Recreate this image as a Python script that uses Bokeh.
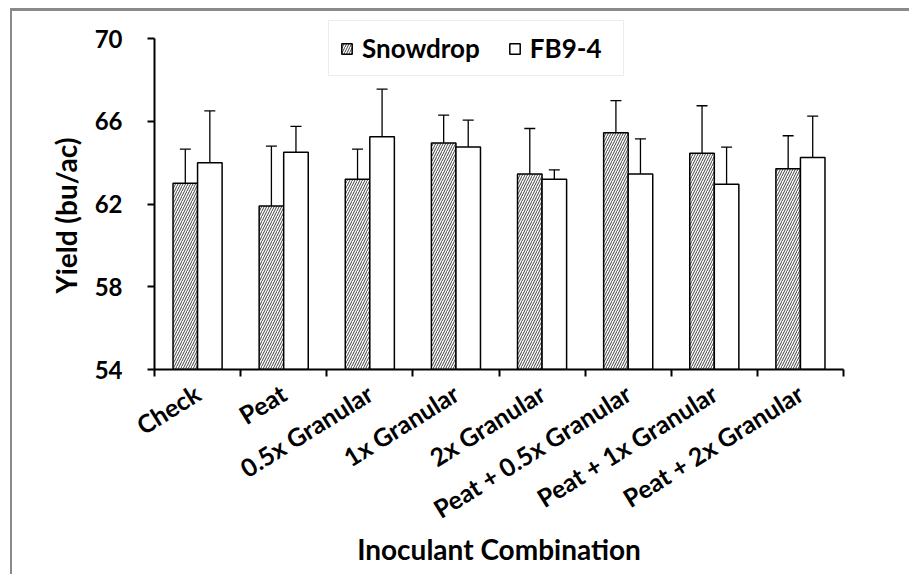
import math
from bokeh.plotting import figure
from bokeh.models import (FixedTicker, Whisker, ColumnDataSource, Legend,
                          LegendItem, TeeHead, Title)
from bokeh.embed import file_html
from bokeh.resources import INLINE

categories = ["Check", "Peat", "0.5x Granular", "1x Granular", "2x Granular",
              "Peat + 0.5x Granular", "Peat + 1x Granular", "Peat + 2x Granular"]
snowdrop = [63.0, 61.9, 63.2, 64.95, 63.45, 65.45, 64.45, 63.7]
snowdrop_err = [1.65, 2.9, 1.45, 1.35, 2.2, 1.55, 2.3, 1.6]
fb94 = [64.0, 64.5, 65.25, 64.75, 63.2, 63.45, 62.95, 64.25]
fb94_err = [2.5, 1.25, 2.3, 1.3, 0.45, 1.7, 1.8, 2.0]
y_ticks = [54, 58, 62, 66, 70]

FONT = "Lato"
n = len(categories)
bw = 0.285
centers = [i + 0.5 for i in range(n)]

# axis spans 331 px for the tick range; extra 18 px of frame above for the legend
AXIS_PX = 331
EXTRA_PX = 18
y_end = y_ticks[-1] + EXTRA_PX * (y_ticks[-1] - y_ticks[0]) / AXIS_PX

src_s = ColumnDataSource(dict(
    x=[c - bw / 2 for c in centers], top=snowdrop,
    upper=[v + e for v, e in zip(snowdrop, snowdrop_err)],
    lower=[v - e for v, e in zip(snowdrop, snowdrop_err)]))
src_f = ColumnDataSource(dict(
    x=[c + bw / 2 for c in centers], top=fb94,
    upper=[v + e for v, e in zip(fb94, fb94_err)],
    lower=[v - e for v, e in zip(fb94, fb94_err)]))

p = figure(frame_width=689, frame_height=AXIS_PX + EXTRA_PX,
           x_range=(0, n), y_range=(y_ticks[0], y_end),
           output_backend="svg", toolbar_location=None,
           min_border_left=142, min_border_right=66,
           min_border_top=9, min_border_bottom=205)
p.margin = (8, 0, 0, 10)
p.styles = {"border-left": "2px solid #8a8a8a", "border-top": "3px solid #8a8a8a"}
p.xgrid.visible = False
p.ygrid.visible = False
p.outline_line_color = None

r1 = p.vbar(x="x", top="top", bottom=y_ticks[0], width=bw, source=src_s,
            fill_color="white", line_color="black", line_width=1.5,
            hatch_pattern="/", hatch_color="#111111", hatch_scale=5, hatch_weight=0.8)
r2 = p.vbar(x="x", top="top", bottom=y_ticks[0], width=bw, source=src_f,
            fill_color="white", line_color="black", line_width=1.5)

for src in (src_s, src_f):
    w = Whisker(source=src, base="x", upper="upper", lower="lower",
                line_color="black", line_width=1.3,
                upper_head=TeeHead(size=11, line_width=1.3, line_color="black"),
                lower_head=TeeHead(size=11, line_width=1.3, line_color="black"))
    p.add_layout(w)

# y axis
ya = p.yaxis[0]
ya.ticker = FixedTicker(ticks=y_ticks)
ya.bounds = (y_ticks[0], y_ticks[-1])
ya.major_label_text_font = FONT
ya.major_label_text_font_style = "bold"
ya.major_label_text_font_size = "24px"
ya.major_label_text_color = "black"
ya.major_label_standoff = 25
ya.axis_line_width = 2
ya.major_tick_line_width = 2
ya.major_tick_in = 0
ya.major_tick_out = 7
ya.minor_tick_line_color = None

# y axis title, started at a fixed offset from the bottom of the frame
ytitle = Title(text="Yield (bu/ac)", align="left", offset=76, standoff=18,
               text_font=FONT, text_font_style="bold", text_font_size="28px",
               text_color="black")
p.add_layout(ytitle, "left")

# x axis
xa = p.xaxis[0]
xa.ticker = FixedTicker(ticks=centers, minor_ticks=list(range(n + 1)))
xa.major_label_overrides = {c: cat for c, cat in zip(centers, categories)}
xa.major_label_orientation = math.radians(32)
xa.major_label_text_font = FONT
xa.major_label_text_font_style = "bold"
xa.major_label_text_font_size = "25px"
xa.major_label_text_color = "black"
xa.major_label_standoff = 14
xa.major_tick_line_color = None
xa.minor_tick_line_color = "black"
xa.minor_tick_line_width = 2
xa.minor_tick_in = 0
xa.minor_tick_out = 7
xa.axis_line_width = 2
xa.axis_label = "Inoculant Combination"
xa.axis_label_text_font = FONT
xa.axis_label_text_font_style = "bold"
xa.axis_label_text_font_size = "28px"
xa.axis_label_text_color = "black"
xa.axis_label_standoff = -7

legend = Legend(items=[LegendItem(label="Snowdrop", renderers=[r1]),
                       LegendItem(label="FB9-4", renderers=[r2])],
                orientation="horizontal", location=(174, 293),
                border_line_color="#d9d9d9", border_line_width=1.5,
                label_text_font=FONT, label_text_font_style="bold",
                label_text_font_size="26px", label_text_color="black",
                glyph_width=13, glyph_height=13,
                spacing=28, padding=11, label_standoff=9, label_width=82,
                background_fill_color="white", background_fill_alpha=1)
p.add_layout(legend)

open("out.html", "w").write(file_html(p, INLINE))
